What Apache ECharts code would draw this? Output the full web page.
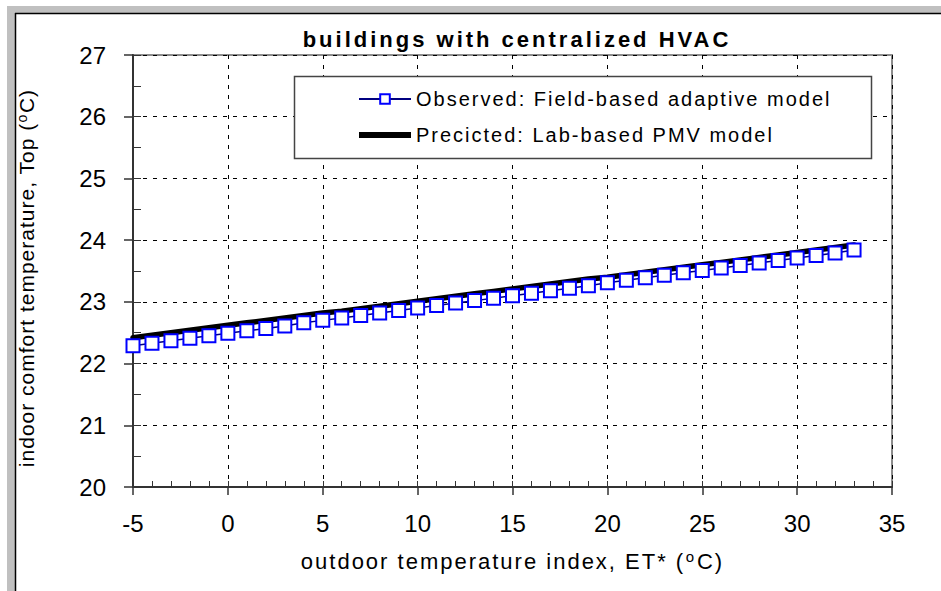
<!DOCTYPE html>
<html>
<head>
<meta charset="utf-8">
<script src="https://cdn.jsdelivr.net/npm/echarts@6/dist/echarts.min.js"></script>
<style>
  html, body { margin: 0; padding: 0; background: #fff; }
  #chart { width: 941px; height: 591px; }
  /* the Excel original spaces its letters out; the marker names in the font stacks pick the spacing */
  #chart text[style*="lsp1"] { letter-spacing: 1px; }
  #chart text[style*="lsp2"] { letter-spacing: 2px; }
  #chart text[style*="lsp3"] { letter-spacing: 3px; }
</style>
</head>
<body>
<div id="chart"></div>
<script>
// outdoor temperature index ET* (°C)
const etValues = [-5, -4, -3, -2, -1, 0, 1, 2, 3, 4, 5, 6, 7, 8, 9, 10, 11, 12, 13, 14,
  15, 16, 17, 18, 19, 20, 21, 22, 23, 24, 25, 26, 27, 28, 29, 30, 31, 32, 33]

// observed comfort temperature, field-based adaptive model (°C)
const observedTop = [22.29, 22.33, 22.37, 22.41, 22.45, 22.49, 22.53, 22.57, 22.61, 22.66,
  22.70, 22.74, 22.78, 22.82, 22.86, 22.90, 22.94, 22.98, 23.02, 23.06,
  23.10, 23.14, 23.18, 23.22, 23.26, 23.31, 23.35, 23.39, 23.43, 23.47,
  23.51, 23.55, 23.59, 23.63, 23.67, 23.71, 23.75, 23.79, 23.84]

// predicted comfort temperature, lab-based PMV model (°C)
const predictedTop = [22.42, 22.46, 22.50, 22.54, 22.58, 22.62, 22.66, 22.70, 22.74, 22.78,
  22.82, 22.85, 22.89, 22.93, 22.97, 23.01, 23.05, 23.09, 23.13, 23.17,
  23.21, 23.25, 23.29, 23.33, 23.37, 23.40, 23.44, 23.48, 23.52, 23.56,
  23.60, 23.64, 23.68, 23.72, 23.76, 23.80, 23.84, 23.88, 23.92]

const xRange = [-5, 35]
const yRange = [20, 27]

const observedName = 'Observed: Field-based adaptive model'
const predictedName = 'Precicted: Lab-based PMV model'

const fam = sp => 'lsp' + sp + ', "Liberation Sans", sans-serif'
const plain = '"Liberation Sans", sans-serif'

// rich-text tokens are placed by their measured width, so widen them by the css spacing
const ctx = document.createElement('canvas').getContext('2d')
function spacedWidth(text, size, sp) {
  ctx.font = size + 'px "Liberation Sans"'
  return Math.ceil(ctx.measureText(text).width + sp * text.length)
}
function degreeName(before, size, supSize, sp, lift) {
  const after = 'C)'
  return {
    text: '{a|' + before + '}{s|o}{b|' + after + '}',
    rich: {
      a: { fontFamily: fam(sp), fontSize: size, color: '#000', width: spacedWidth(before, size, sp) },
      s: { fontFamily: fam(sp), fontSize: supSize, color: '#000', width: spacedWidth('o', supSize, sp),
           verticalAlign: 'top', padding: [0, 0, lift, 0] },
      b: { fontFamily: fam(sp), fontSize: size, color: '#000', width: spacedWidth(after, size, sp) }
    }
  }
}
const xName = degreeName('outdoor temperature index, ET* (', 22, 15, 2, 9)
const yName = degreeName('indoor comfort temperature, Top (', 21, 14, 1, 8)

const chart = echarts.init(document.getElementById('chart'), null, { renderer: 'svg' })

const gridBox = { left: 133, right: 49, top: 55, bottom: 104 }
const tickLine = { color: '#333', width: 1.5 }
const minorLine = { color: '#333', width: 1 }

chart.setOption({
  animation: false,
  title: {
    text: 'buildings with centralized HVAC',
    left: 512,
    top: 23,
    textAlign: 'center',
    textStyle: { fontFamily: fam(3), fontSize: 22, fontWeight: 'bold', color: '#000' }
  },
  grid: [
    Object.assign({ show: true, borderColor: '#8c8c8c', borderWidth: 2 }, gridBox),
    // same box again, only to carry the inward minor ticks
    Object.assign({ show: false }, gridBox)
  ],
  legend: {
    orient: 'vertical',
    left: 353,
    top: 84,
    itemWidth: 52,
    itemHeight: 12,
    itemGap: 16,
    data: [
      observedName,
      { name: predictedName, icon: 'path://M0,0L52,0L52,6L0,6Z' }
    ],
    textStyle: { fontFamily: fam(2), fontSize: 20, color: '#000' },
    z: 5
  },
  graphic: [
    // grey page frame on the left and top
    { type: 'rect', shape: { x: 7, y: 6, width: 8, height: 585 }, style: { fill: '#c0c0c0' }, silent: true },
    { type: 'rect', shape: { x: 7, y: 6, width: 934, height: 7 }, style: { fill: '#c0c0c0' }, silent: true },
    { type: 'line', shape: { x1: 15.5, y1: 13, x2: 15.5, y2: 591 }, style: { stroke: '#000', lineWidth: 1.5 } },
    { type: 'line', shape: { x1: 15, y1: 13.5, x2: 941, y2: 13.5 }, style: { stroke: '#000', lineWidth: 1.5 } },
    // legend box
    { type: 'rect', z: 4, shape: { x: 294.5, y: 76.5, width: 577, height: 82 },
      style: { fill: '#fff', stroke: '#444', lineWidth: 1.5 } }
  ],
  xAxis: [
    {
      type: 'value',
      gridIndex: 0,
      min: xRange[0],
      max: xRange[1],
      interval: 5,
      name: xName.text,
      nameLocation: 'middle',
      nameGap: 62,
      nameTextStyle: { fontFamily: fam(2), fontSize: 22, color: '#000', rich: xName.rich },
      axisLine: { onZero: false, lineStyle: { color: '#333', width: 2 } },
      axisTick: { length: 8, lineStyle: tickLine },
      splitLine: { lineStyle: { color: '#000', type: [4, 6], width: 1 } },
      axisLabel: { fontFamily: plain, fontSize: 24, color: '#000', margin: 24 }
    },
    {
      // minor ticks every 1 °C, pointing up into the plot
      type: 'value',
      gridIndex: 1,
      min: xRange[0],
      max: xRange[1],
      interval: 1,
      axisLine: { show: false, onZero: false },
      axisTick: { inside: true, length: 6, lineStyle: minorLine },
      axisLabel: { show: false },
      splitLine: { show: false }
    }
  ],
  yAxis: [
    {
      type: 'value',
      gridIndex: 0,
      min: yRange[0],
      max: yRange[1],
      interval: 1,
      name: yName.text,
      nameLocation: 'middle',
      nameGap: 96,
      nameRotate: 90,
      nameTextStyle: { fontFamily: fam(1), fontSize: 21, color: '#000', rich: yName.rich, padding: [0, 14, 0, 0] },
      axisLine: { onZero: false, lineStyle: { color: '#333', width: 2 } },
      axisTick: { length: 9, lineStyle: tickLine },
      splitLine: { lineStyle: { color: '#000', type: [4, 6], width: 1 } },
      axisLabel: { fontFamily: plain, fontSize: 24, color: '#000', margin: 27 }
    },
    {
      // minor ticks every 0.5 °C, pointing right into the plot
      type: 'value',
      gridIndex: 1,
      min: yRange[0],
      max: yRange[1],
      interval: 0.5,
      axisLine: { show: false, onZero: false },
      axisTick: { inside: true, length: 8, lineStyle: minorLine },
      axisLabel: { show: false },
      splitLine: { show: false }
    }
  ],
  series: [
    {
      name: predictedName,
      type: 'line',
      data: etValues.map((x, i) => [x, predictedTop[i]]),
      symbol: 'none',
      lineStyle: { color: '#000', width: 5.5, cap: 'round' },
      itemStyle: { color: '#000' }
    },
    {
      name: observedName,
      type: 'line',
      data: etValues.map((x, i) => [x, observedTop[i]]),
      symbol: 'rect',
      symbolSize: 13,
      lineStyle: { color: '#000080', width: 1.5 },
      itemStyle: { color: '#fff', borderColor: '#0000ff', borderWidth: 2 }
    }
  ]
})
</script>
</body>
</html>
